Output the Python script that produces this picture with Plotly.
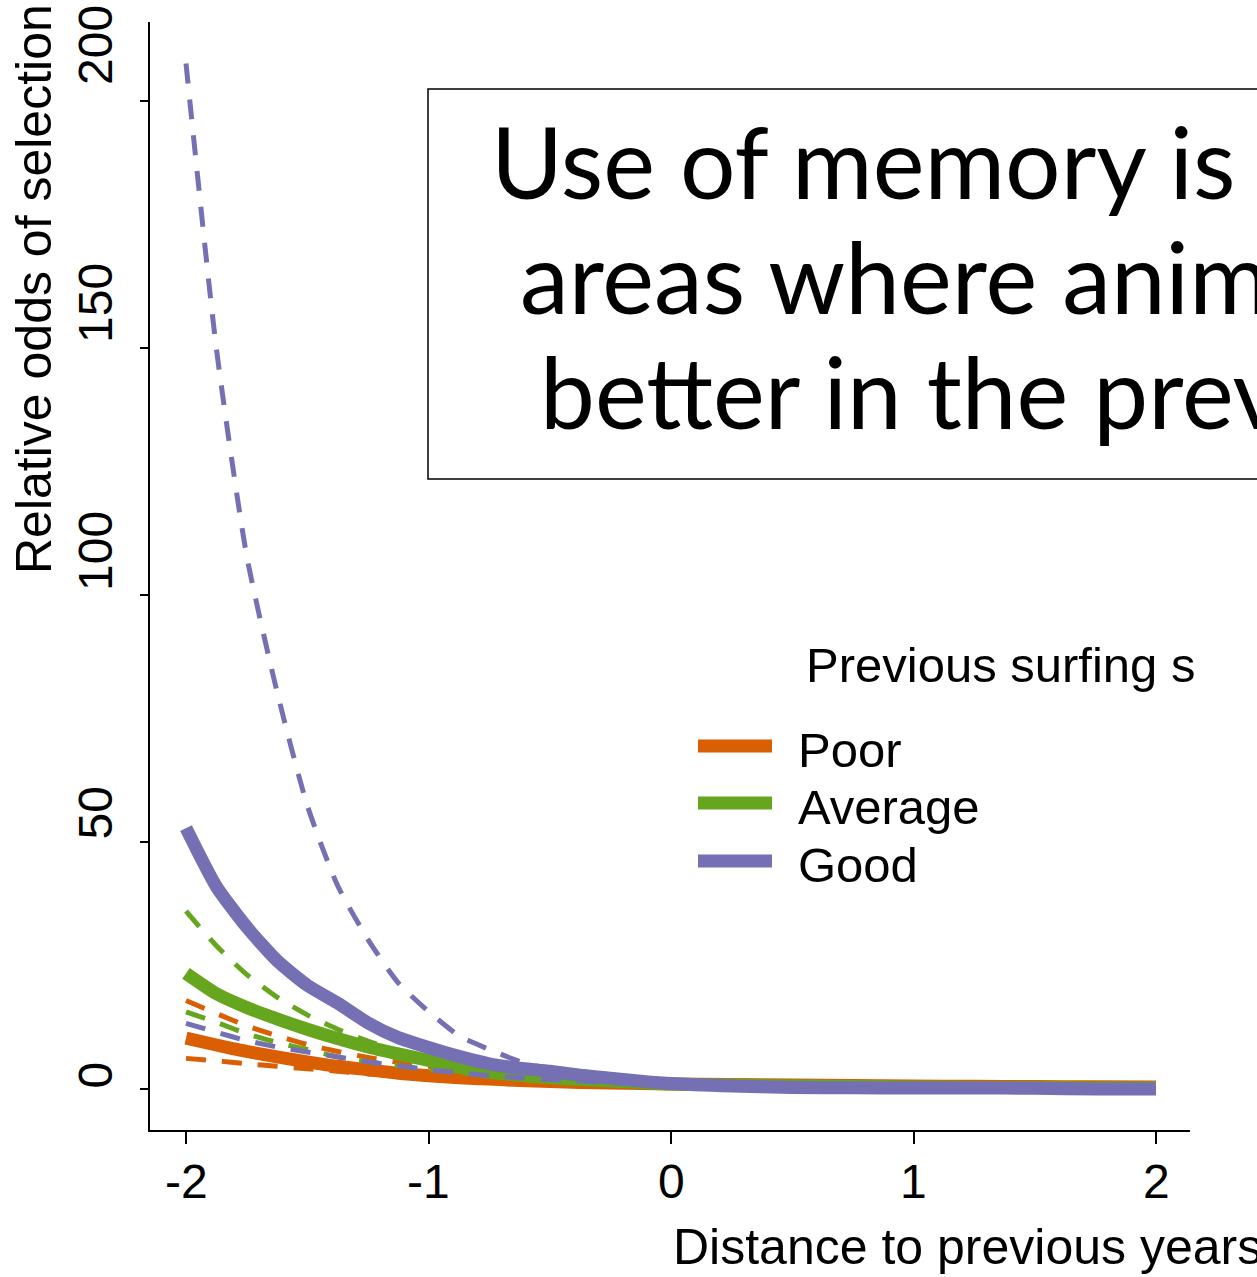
import plotly.graph_objects as go

# Distance to previous year's location (standardised)
distance = [-2, -1.875, -1.75, -1.625, -1.5, -1.375, -1.25, -1.125, -1,
            -0.875, -0.75, -0.625, -0.5, -0.375, -0.25, -0.125, 0,
            0.25, 0.5, 0.75, 1, 1.25, 1.5, 1.75, 2]

# Relative odds of selection: fitted curve with lower / upper bounds
poor_lower = [6.2, 5.7, 5.1, 4.6, 4.1, 3.6, 3.1, 2.7, 2.3, 2.0, 1.7, 1.5, 1.3,
              1.1, 1.0, 0.9, 0.8, 0.7, 0.6, 0.5, 0.45, 0.4, 0.35, 0.3, 0.3]
poor_mean = [10.3, 8.9, 7.6, 6.5, 5.5, 4.6, 3.9, 3.2, 2.7, 2.3, 2.0, 1.7, 1.5,
             1.3, 1.2, 1.1, 1.0, 0.9, 0.8, 0.7, 0.6, 0.55, 0.5, 0.45, 0.4]
poor_upper = [17.9, 15.3, 12.8, 10.8, 9.0, 7.6, 6.4, 5.4, 4.6, 3.9, 3.3, 2.8, 2.4,
              2.0, 1.7, 1.5, 1.3, 1.1, 0.9, 0.8, 0.7, 0.6, 0.5, 0.45, 0.4]

avg_lower = [15.6, 13.5, 11.2, 9.4, 8.0, 6.5, 5.5, 4.7, 3.9, 3.3, 2.7, 2.3, 2.0,
             1.7, 1.4, 1.2, 1.0, 0.8, 0.6, 0.5, 0.4, 0.35, 0.3, 0.25, 0.2]
avg_mean = [23.4, 19.3, 16.5, 14.2, 12.1, 10.2, 8.5, 7.1, 5.8, 4.4, 3.4, 2.8, 2.3,
            1.9, 1.6, 1.3, 1.0, 0.8, 0.6, 0.5, 0.4, 0.3, 0.3, 0.2, 0.2]
avg_upper = [36.0, 29.0, 23.2, 18.6, 15.0, 12.1, 9.7, 7.8, 6.3, 5.0, 4.0, 3.2, 2.6,
             2.1, 1.7, 1.4, 1.1, 0.8, 0.6, 0.5, 0.4, 0.35, 0.3, 0.25, 0.2]

good_lower = [13.3, 11.5, 9.8, 8.5, 7.5, 6.5, 5.5, 4.7, 3.9, 3.3, 2.7, 2.3, 1.9,
              1.6, 1.3, 1.1, 0.9, 0.6, 0.4, 0.3, 0.2, 0.2, 0.1, 0.1, 0.05]
good_mean = [52.8, 41.0, 32.8, 26.0, 21.0, 17.4, 13.4, 10.4, 8.4, 6.6, 5.1, 4.2, 3.6,
             2.8, 2.2, 1.6, 1.1, 0.6, 0.3, 0.25, 0.2, 0.2, 0.15, 0.0, 0.0]
good_upper = [207.6, 150.0, 108.0, 80.5, 57.4, 41.2, 30.3, 21.5, 15.7, 10.8, 8.0, 5.6, 4.0,
              3.0, 2.3, 1.7, 1.3, 0.9, 0.6, 0.4, 0.3, 0.2, 0.15, 0.1, 0.05]

groups = ["Poor", "Average", "Good"]
colors = ["#D95F02", "#66A61E", "#7570B3"]
curves = [(poor_lower, poor_mean, poor_upper),
          (avg_lower, avg_mean, avg_upper),
          (good_lower, good_mean, good_upper)]

x_ticks = [-2, -1, 0, 1, 2]
y_ticks = [0, 50, 100, 150, 200]

title_lines = ["Use of memory is", "areas where anim", "better in the prev"]
legend_title = "Previous surfing s"

W, H = 1257, 1277
L, R, T, B = 150, 1190, 22, 1130  # plot area in pixels
FONT = "Liberation Sans, Arial, Helvetica, sans-serif"


def px(x):
    return (x - L) / (R - L)


def py(y):
    return (B - y) / (B - T)


fig = go.Figure()
for name, col, (lo, mid, hi) in zip(groups, colors, curves):
    for band in (lo, hi):
        fig.add_trace(go.Scatter(x=distance, y=band, mode="lines",
                                 line=dict(color=col, width=5, dash="20px,16px",
                                           shape="spline", smoothing=0.6),
                                 showlegend=False, hoverinfo="skip"))
    fig.add_trace(go.Scatter(x=distance, y=mid, mode="lines", name=name,
                             line=dict(color=col, width=13, shape="spline", smoothing=0.6),
                             showlegend=False))

shapes = []
annotations = []

# boxed heading
shapes.append(dict(type="rect", xref="paper", yref="paper",
                   x0=px(428), x1=px(1320), y0=py(479), y1=py(89),
                   line=dict(color="black", width=1.5), fillcolor="rgba(0,0,0,0)"))
for text, x0, yc in zip(title_lines, [489, 518, 538], [161, 276, 391]):
    annotations.append(dict(text=text, xref="paper", yref="paper",
                            x=px(x0), y=py(yc), xanchor="left", yanchor="middle",
                            showarrow=False,
                            font=dict(family="Lato, Open Sans, sans-serif", size=98, color="black")))

# legend
annotations.append(dict(text=legend_title, xref="paper", yref="paper",
                        x=px(804), y=py(665), xanchor="left", yanchor="middle",
                        showarrow=False, font=dict(family=FONT, size=49, color="black")))
for name, col, yc in zip(groups, colors, [746, 803, 861]):
    shapes.append(dict(type="line", xref="paper", yref="paper",
                       x0=px(698), x1=px(772), y0=py(yc), y1=py(yc),
                       line=dict(color=col, width=13)))
    annotations.append(dict(text=name, xref="paper", yref="paper",
                            x=px(796), y=py(yc + 4), xanchor="left", yanchor="middle",
                            showarrow=False, font=dict(family=FONT, size=49, color="black")))

# tick labels: x centred under ticks, y rotated and sitting just above ticks
for v in x_ticks:
    annotations.append(dict(text=str(v), xref="x", yref="paper", x=v, y=py(1181),
                            xanchor="center", yanchor="middle", showarrow=False,
                            font=dict(family=FONT, size=48, color="black")))
y_label_lift = [0, 2, 4, 5, 16]
for v, lift in zip(y_ticks, y_label_lift):
    annotations.append(dict(text=str(v), xref="paper", yref="y", x=px(95), y=v,
                            xanchor="center", yanchor="bottom", yshift=lift - 2,
                            textangle=-90, showarrow=False,
                            font=dict(family=FONT, size=48, color="black")))

# axis titles
annotations.append(dict(text="Relative odds of selection", xref="paper", yref="paper",
                        x=px(34), y=py(289), xanchor="center", yanchor="middle",
                        textangle=-90, showarrow=False,
                        font=dict(family=FONT, size=50, color="black")))
annotations.append(dict(text="Distance to previous years", xref="paper", yref="paper",
                        x=px(671), y=py(1247), xanchor="left", yanchor="middle",
                        showarrow=False, font=dict(family=FONT, size=50, color="black")))

x_range = [-2 - (186 - L) / 242.5, 2 + (R - 1156) / 242.5]
y_range = [-(B - 1089) / 4.94, (1089 - T) / 4.94]

fig.update_layout(
    width=W, height=H,
    margin=dict(l=L, r=W - R, t=T, b=H - B),
    paper_bgcolor="white", plot_bgcolor="white",
    font=dict(family=FONT, size=48, color="black"),
    shapes=shapes, annotations=annotations,
    showlegend=False,
    xaxis=dict(range=x_range, tickvals=x_ticks, showticklabels=False,
               showgrid=False, zeroline=False, showline=True, linecolor="black",
               linewidth=2, ticks="outside", ticklen=12, tickwidth=2, tickcolor="black"),
    yaxis=dict(range=y_range, tickvals=y_ticks, showticklabels=False,
               showgrid=False, zeroline=False, showline=True, linecolor="black",
               linewidth=2, ticks="outside", ticklen=8, tickwidth=2, tickcolor="black"),
)

fig.write_html("out.html")
